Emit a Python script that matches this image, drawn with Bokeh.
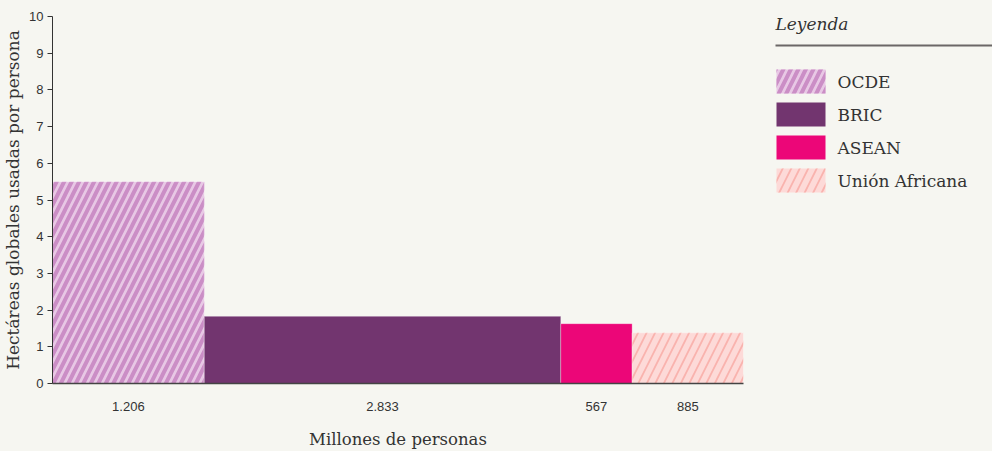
import numpy as np
from bokeh.plotting import figure
from bokeh.models import Range1d, FixedTicker
from bokeh.layouts import row
from bokeh.embed import file_html
from bokeh.resources import INLINE
from bokeh.core.properties import value

# ---- data ----
groups = ["OCDE", "BRIC", "ASEAN", "Unión Africana"]
population = [1206, 2833, 567, 885]          # millones de personas (bar widths)
hectares = [5.5, 1.83, 1.63, 1.38]           # hectáreas globales por persona (bar heights)
pop_labels = ["1.206", "2.833", "567", "885"]
y_ticks = [0, 1, 2, 3, 4, 5, 6, 7, 8, 9, 10]

# ---- styles ----
BG = "#f6f6f1"
TXT = "#333333"
SERIF = "DejaVu Serif"
fill_colors = ["#e8c8e5", "#72356f", "#ec0678", "#fddad8"]
hatch_patterns = ["/", " ", " ", "/"]
hatch_colors = ["#cb8ec6", "#72356f", "#ec0678", "#f9b3ae"]
hatch_weights = [4.0, 1.0, 1.0, 1.8]
hatch_scales = [15.0, 10.0, 10.0, 17.0]

rights = np.cumsum(population)
lefts = rights - np.array(population)
centers = (lefts + rights) / 2.0
total = float(rights[-1])

p = figure(width=768, height=451, output_backend="svg", toolbar_location=None,
           x_range=Range1d(0, total), y_range=Range1d(0, 10),
           min_border_left=44, min_border_right=25, min_border_top=16, min_border_bottom=68)
p.background_fill_color = BG
p.border_fill_color = BG
p.outline_line_color = None
p.grid.visible = False

for i in range(len(groups)):
    p.quad(left=[lefts[i]], right=[rights[i]], bottom=[0], top=[hectares[i]],
           fill_color=fill_colors[i], line_color="#ffffff", line_alpha=0.3, line_width=1,
           hatch_pattern=hatch_patterns[i], hatch_color=hatch_colors[i],
           hatch_weight=hatch_weights[i], hatch_scale=hatch_scales[i])

# y axis
p.yaxis.ticker = FixedTicker(ticks=y_ticks)
p.yaxis.minor_tick_line_color = None
p.yaxis.major_tick_out = 5
p.yaxis.major_tick_in = 0
p.yaxis.axis_line_color = TXT
p.yaxis.major_tick_line_color = TXT
p.yaxis.major_label_text_font = "Liberation Sans"
p.yaxis.major_label_text_font_size = "13px"
p.yaxis.major_label_text_color = TXT
p.yaxis.major_label_standoff = 4
p.yaxis.axis_label = "Hectáreas globales usadas por persona"
p.yaxis.axis_label_text_font = SERIF
p.yaxis.axis_label_text_font_style = "normal"
p.yaxis.axis_label_text_font_size = "17px"
p.yaxis.axis_label_text_color = TXT
p.yaxis.axis_label_standoff = 3

# x axis
p.xaxis.ticker = FixedTicker(ticks=list(centers))
p.xaxis.major_label_overrides = {float(c): lab for c, lab in zip(centers, pop_labels)}
p.xaxis.major_tick_line_color = None
p.xaxis.minor_tick_line_color = None
p.xaxis.axis_line_color = "#444444"
p.xaxis.axis_line_width = 1.5
p.xaxis.major_label_text_font = "Liberation Sans"
p.xaxis.major_label_text_font_size = "13px"
p.xaxis.major_label_text_color = TXT
p.xaxis.major_label_standoff = 12
p.xaxis.axis_label = "Millones de personas"
p.xaxis.axis_label_text_font = SERIF
p.xaxis.axis_label_text_font_style = "normal"
p.xaxis.axis_label_text_font_size = "16.5px"
p.xaxis.axis_label_text_color = TXT
p.xaxis.axis_label_standoff = 16

# ---- legend panel (page pixel coordinates; its frame is aligned with the main frame, y 16..383) ----
leg = figure(width=224, height=451, output_backend="svg", toolbar_location=None,
             x_range=Range1d(768, 992), y_range=Range1d(383, 16),
             x_axis_type=None, y_axis_type=None,
             min_border_left=0, min_border_right=0, min_border_top=16, min_border_bottom=68)
leg.background_fill_color = BG
leg.border_fill_color = BG
leg.outline_line_color = None
leg.grid.visible = False

leg.text(x=[775], y=[23], text=["Leyenda"], text_baseline="middle",
         text_font=value(SERIF), text_font_style="italic", text_font_size="17px", text_color=TXT)
leg.segment(x0=[775], y0=[45], x1=[992], y1=[45], line_color="#6b6767", line_width=2)

sw_top = [69, 102, 135, 168]
for i in range(len(groups)):
    leg.quad(left=[776], right=[825], top=[sw_top[i]], bottom=[sw_top[i] + 24],
             fill_color=fill_colors[i], line_color=None,
             hatch_pattern=hatch_patterns[i], hatch_color=hatch_colors[i],
             hatch_weight=hatch_weights[i], hatch_scale=hatch_scales[i])
leg.text(x=[837] * 4, y=[t + 12 for t in sw_top], text=groups, text_baseline="middle",
         text_font=value(SERIF), text_font_size="17px", text_color=TXT)

layout = row(p, leg)
html = file_html(layout, INLINE)
html = html.replace("</head>", "<style>html, body { background: %s; }</style></head>" % BG, 1)
open("out.html", "w").write(html)
